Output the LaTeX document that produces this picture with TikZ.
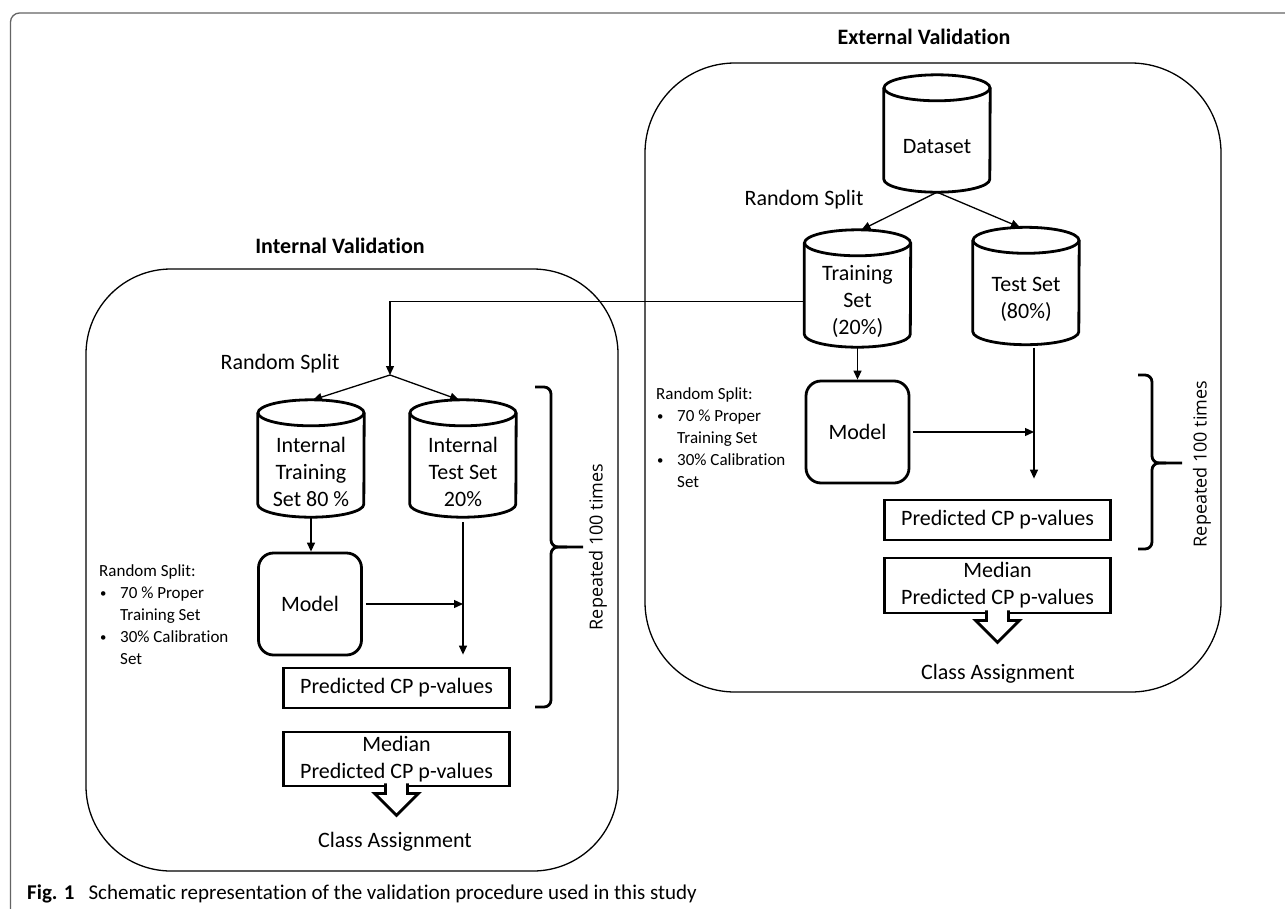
\documentclass[tikz,border=0pt]{standalone}
\usepackage{fontspec}
\setmainfont{Carlito}[Ligatures=NoCommon]
\newfontfamily\repfont{Open Sans}
\usetikzlibrary{arrows.meta,calc}
\definecolor{framecol}{RGB}{100,100,100}
\newcommand{\drawcyl}[1]{%
  \draw[cylline] ($(#1.north west)+(0,-13)$) -- ($(#1.south west)+(0,-13)$)
    arc[start angle=180,end angle=0,x radius=53,y radius=13] -- ($(#1.north east)+(0,-13)$);
  \draw[cylline] ($(#1.north)+(0,-13)$) ellipse[x radius=53,y radius=13];
}
\newcommand{\hollowarrow}[1]{%
  \fill[white] ($(#1.south)+(-11,-4)$) -- ++(0,10) -- ++(-11,0) -- ++(22,22) -- ++(22,-22) -- ++(-11,0) -- ++(0,-10) -- cycle;
  \draw[hollow] ($(#1.south)+(-11,-4)$) -- ++(0,10) -- ++(-11,0) -- ++(22,22) -- ++(22,-22) -- ++(-11,0) -- ++(0,-10);
}
\newcommand{\bulmark}{\makebox[21pt][l]{\hspace{1pt}\raisebox{1pt}{\scalebox{0.75}{\textbullet}}}}
\begin{document}
\begin{tikzpicture}[x=1pt,y=-1pt,
  txt/.style={font=\fontsize{22}{27}\selectfont, inner sep=0pt, align=center},
  ttl/.style={font=\bfseries\fontsize{22}{27}\selectfont, inner sep=0pt},
  bul/.style={font=\fontsize{17}{22}\selectfont, inner sep=0pt, align=left},
  rep/.style={font=\repfont\fontsize{18}{22}\selectfont, inner sep=0pt, rotate=90},
  bigbox/.style={draw, line width=1.3pt, inner sep=0pt},
  cylbody/.style={txt, minimum width=106pt, minimum height=91pt},
  cylline/.style={line width=2.8pt},
  modelbox/.style={txt, draw, line width=2.8pt, rounded corners=15pt, minimum width=103pt, minimum height=102pt},
  resbox/.style={txt, draw, line width=2.8pt, minimum width=226pt},
  arr/.style={line width=1.3pt, -{Triangle[length=9pt,width=8pt]}},
  brace/.style={line width=2.8pt, rounded corners=7pt},
  hollow/.style={line width=2.8pt, line join=miter},
]
\clip (0,0) rectangle (1285,908);
\fill[white] (0,0) rectangle (1285,908);
\draw[framecol, line width=1.3pt, rounded corners=9pt] (10.5,13) rectangle (1330,960);

% big boxes
\node[bigbox, rounded corners=90pt, minimum width=576pt, minimum height=629pt] (extbox) at (933,377.5) {};
\node[bigbox, rounded corners=85pt, minimum width=532pt, minimum height=602pt] (intbox) at (352,570) {};
\node[ttl] (exttitle) at (924,37) {External Validation};
\node[ttl] (inttitle) at (340,246) {Internal Validation};

% External validation
\node[cylbody] (dataset) at (937,146.5) {Dataset};
\node[cylbody] (etrain) at (857.5,301.5) {Training\\Set\\(20\%)};
\node[cylbody] (etest) at (1026,299) {Test Set\\(80\%)};
\drawcyl{dataset}
\drawcyl{etrain}
\drawcyl{etest}
\node[txt] (esplit) at (804,200) {Random Split};
\node[modelbox] (emodel) at (857.5,432) {Model};
\node[resbox, minimum height=40pt] (epred) at (997.5,520) {Predicted CP p-values};
\node[resbox, minimum height=55pt] (emed) at (997.5,585.5) {Median\\Predicted CP p-values};
\node[txt] (eclass) at (998,674) {Class Assignment};
\node[bul, anchor=north west] (ebul) at (656,387) {Random Split:\\
  \bulmark 70 \% Proper\\
  \hspace*{21pt}Training Set\\
  \bulmark 30\% Calibration\\
  \hspace*{21pt}Set};
\node[rep] (erep) at (1202,464) {Repeated 100 times};

\draw[arr] (dataset.south) -- ($(etrain.north)+(4,-26)$);
\draw[arr] (dataset.south) -- ($(etest.north)+(-6,-26)$);
\draw[arr] (etrain.south) -- (emodel.north);
\coordinate (etl) at ($(etest.south)+(8,3)$);
\draw[arr] (etl) -- ($(etl |- epred.north)+(0,-20)$);
\draw[arr] ($(emodel.east)+(3,0)$) -- (emodel.east -| etl);
\hollowarrow{emed}
\draw[brace] (1138,375) -- (1152,375) -- (1152,463) -- (1182,463);
\draw[brace] (1138,549) -- (1152,549) -- (1152,463) -- (1166,463);

% Internal validation
\node[cylbody] (itrain) at (311,471.5) {Internal\\Training\\Set 80 \%};
\node[cylbody] (itest) at (463,471.5) {Internal\\Test Set\\20\%};
\drawcyl{itrain}
\drawcyl{itest}
\node[txt] (isplit) at (280,364) {Random Split};
\node[modelbox] (imodel) at (310,604) {Model};
\node[resbox, minimum height=40pt] (ipred) at (396.5,688) {Predicted CP p-values};
\node[resbox, minimum height=54pt] (imed) at (396.5,759) {Median\\Predicted CP p-values};
\node[txt] (iclass) at (395,842) {Class Assignment};
\node[bul, anchor=north west] (ibul) at (99,564) {Random Split:\\
  \bulmark 70 \% Proper\\
  \hspace*{21pt}Training Set\\
  \bulmark 30\% Calibration\\
  \hspace*{21pt}Set};
\node[rep] (irep) at (598,547) {Repeated 100 times};

\coordinate (ijunc) at (390,375);
\draw[arr] (etrain.west) -| (ijunc);
\draw[arr] (ijunc) -- ($(itrain.north)+(2,-26)$);
\draw[arr] (ijunc) -- ($(itest.north)+(-4,-26)$);
\draw[arr] (itrain.south) -- (itrain.south |- imodel.north);
\draw[arr] ($(imodel.east)+(3,0)$) -- (imodel.east -| itest.south);
\draw[arr] ($(itest.south)+(0,5)$) -- ($(itest.south |- ipred.north)+(0,-12)$);
\hollowarrow{imed}
\draw[brace] (535,387) -- (551,387) -- (551,547) -- (583,547);
\draw[brace] (535,707) -- (551,707) -- (551,547) -- (567,547);

% caption
\node[anchor=base west, inner sep=0pt, font=\fontsize{21}{25}\selectfont] (caption) at (27,899)
  {\textbf{Fig. 1}\hspace{14pt}Schematic representation of the validation procedure used in this study};
\end{tikzpicture}
\end{document}
